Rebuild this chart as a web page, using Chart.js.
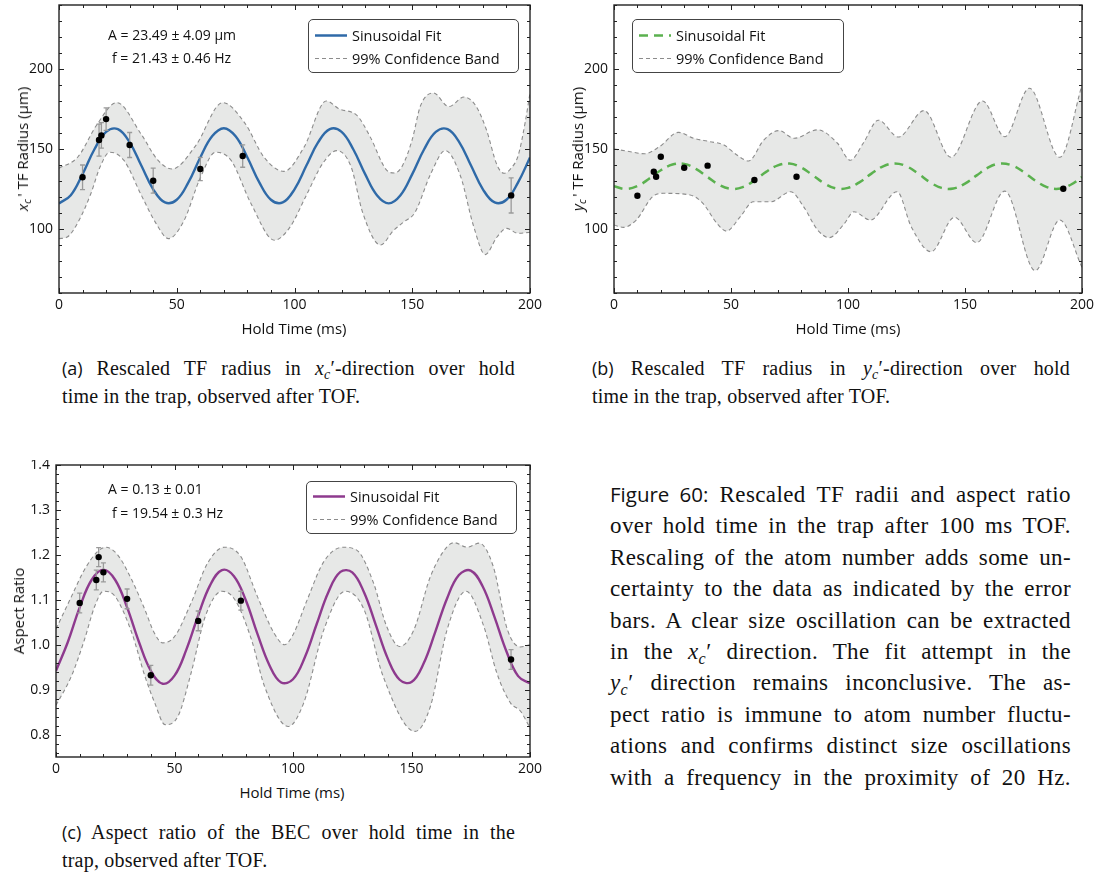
<!DOCTYPE html>
<html>
<head>
<meta charset="utf-8">
<script src="https://cdn.jsdelivr.net/npm/chart.js@4.4.1/dist/chart.umd.min.js"></script>
<style>
  body { margin: 0; width: 1105px; height: 877px; position: relative; overflow: hidden; background: #fff; color: #111; font-family: 'Open Sans', sans-serif; }
  .cv { position: absolute; }
  .ytitle { position: absolute; transform: translate(-50%, -50%) rotate(-90deg); white-space: nowrap; font-size: 15px; }
  .xtitle { position: absolute; transform: translate(-50%, -50%); white-space: nowrap; font-size: 15px; }
  .note { position: absolute; white-space: nowrap; font-size: 14px; transform: translateY(-50%); }
  .legend { position: absolute; border: 1px solid #444; border-radius: 5px; background: #fff; font-size: 14.5px; }
  .legend div { position: absolute; left: 6px; display: flex; align-items: center; white-space: nowrap; transform: translateY(-50%); }
  .legend svg { margin-right: 5px; }
  .cap, #figcap { position: absolute; font-family: 'Liberation Serif', serif; }
  .cap { font-size: 20px; letter-spacing: 0.2px; line-height: 28px; }
  #figcap { left: 610px; top: 479px; width: 461px; font-size: 23px; letter-spacing: 0.4px; line-height: 31.4px; }
  .j { display: block; text-align: justify; text-align-last: justify; white-space: nowrap; }
  .l { display: block; white-space: nowrap; }
  .sf { font-family: 'Open Sans', sans-serif; font-size: 18px; letter-spacing: 0; }
  #figcap .sf { font-size: 20.5px; }
  sub { font-size: 0.7em; vertical-align: -0.3em; line-height: 0; }
</style>
</head>
<body>

<canvas id="chartA" class="cv" style="left:0;top:0" width="545" height="320"></canvas>
<canvas id="chartB" class="cv" style="left:555px;top:0" width="545" height="320"></canvas>
<canvas id="chartC" class="cv" style="left:0;top:460px" width="545" height="320"></canvas>

<!-- panel (a) labels -->
<div class="ytitle" style="left:22px;top:149px"><i>x<sub>c</sub></i>&thinsp;' TF Radius (μm)</div>
<div class="xtitle" style="left:294px;top:328px">Hold Time (ms)</div>
<div class="note" style="left:108px;top:34px">A = 23.49 ± 4.09 μm</div>
<div class="note" style="left:112px;top:57px">f = 21.43 ± 0.46 Hz</div>
<div class="legend" style="left:308px;top:19px;width:209px;height:52px">
  <div style="top:15px"><svg width="32" height="6"><line x1="0" y1="3" x2="32" y2="3" stroke="#2f6aa8" stroke-width="2.4"/></svg>Sinusoidal Fit</div>
  <div style="top:38px"><svg width="32" height="6"><line x1="0" y1="3" x2="32" y2="3" stroke="#8c8c8c" stroke-width="1.2" stroke-dasharray="4,3"/></svg>99% Confidence Band</div>
</div>

<!-- panel (b) labels -->
<div class="ytitle" style="left:577px;top:149px"><i>y<sub>c</sub></i>&thinsp;' TF Radius (μm)</div>
<div class="xtitle" style="left:848px;top:328px">Hold Time (ms)</div>
<div class="legend" style="left:632px;top:19px;width:210px;height:52px">
  <div style="top:15px"><svg width="32" height="6"><line x1="0" y1="3" x2="32" y2="3" stroke="#5bb14f" stroke-width="2.5" stroke-dasharray="9,6"/></svg>Sinusoidal Fit</div>
  <div style="top:38px"><svg width="32" height="6"><line x1="0" y1="3" x2="32" y2="3" stroke="#8c8c8c" stroke-width="1.2" stroke-dasharray="4,3"/></svg>99% Confidence Band</div>
</div>

<!-- panel (c) labels -->
<div class="ytitle" style="left:18px;top:611px">Aspect Ratio</div>
<div class="xtitle" style="left:292px;top:792px">Hold Time (ms)</div>
<div class="note" style="left:108px;top:488px">A = 0.13 ± 0.01</div>
<div class="note" style="left:112px;top:512px">f = 19.54 ± 0.3 Hz</div>
<div class="legend" style="left:306px;top:481px;width:209px;height:51px">
  <div style="top:14px"><svg width="32" height="6"><line x1="0" y1="3" x2="32" y2="3" stroke="#8e3a8e" stroke-width="2.4"/></svg>Sinusoidal Fit</div>
  <div style="top:37px"><svg width="32" height="6"><line x1="0" y1="3" x2="32" y2="3" stroke="#8c8c8c" stroke-width="1.2" stroke-dasharray="4,3"/></svg>99% Confidence Band</div>
</div>

<!-- captions -->
<div class="cap" style="left:62px;top:354px;width:453px">
  <span class="j"><span class="sf">(a)</span> Rescaled TF radius in <i>x<sub>c</sub></i>′-direction over hold</span>
  <span class="l">time in the trap, observed after TOF.</span>
</div>
<div class="cap" style="left:592px;top:354px;width:478px">
  <span class="j"><span class="sf">(b)</span> Rescaled TF radius in <i>y<sub>c</sub></i>′-direction over hold</span>
  <span class="l">time in the trap, observed after TOF.</span>
</div>
<div class="cap" style="left:62px;top:818px;width:453px">
  <span class="j"><span class="sf">(c)</span> Aspect ratio of the BEC over hold time in the</span>
  <span class="l">trap, observed after TOF.</span>
</div>

<div id="figcap">
  <span class="j"><span class="sf">Figure 60:</span> Rescaled TF radii and aspect ratio</span>
  <span class="j">over hold time in the trap after 100 ms TOF.</span>
  <span class="j">Rescaling of the atom number adds some un-</span>
  <span class="j">certainty to the data as indicated by the error</span>
  <span class="j">bars. A clear size oscillation can be extracted</span>
  <span class="j">in the <i>x<sub>c</sub></i>′ direction. The fit attempt in the</span>
  <span class="j"><i>y<sub>c</sub></i>′ direction remains inconclusive. The as-</span>
  <span class="j">pect ratio is immune to atom number fluctu-</span>
  <span class="j">ations and confirms distinct size oscillations</span>
  <span class="j">with a frequency in the proximity of 20 Hz.</span>
</div>

<script>
// measured points (hold time in ms)
const holdTime = [10, 17, 18, 20, 30, 40, 60, 78, 192];
const radiusX = [132.3, 155.6, 158.5, 168.7, 152.5, 130.2, 137.5, 145.6, 121];
const radiusXErr = [7.7, 10, 8, 7, 7.8, 7.8, 7.3, 7, 11];
const radiusY = [120.8, 135.8, 132.7, 145.2, 138.3, 139.6, 130.6, 132.7, 125.2];
const aspect = [1.093, 1.144, 1.195, 1.161, 1.102, 0.932, 1.053, 1.098, 0.967];
const aspectErr = [0.022, 0.022, 0.021, 0.021, 0.022, 0.022, 0.022, 0.021, 0.022];

// fitted curves, read every 5 ms
const fitTime = [0, 5, 10, 15, 20, 25, 30, 35, 40, 45, 50, 55, 60, 65, 70, 75, 80, 85, 90, 95, 100,
  105, 110, 115, 120, 125, 130, 135, 140, 145, 150, 155, 160, 165, 170, 175, 180, 185, 190, 195, 200];
const fitX = [116.0, 121.1, 134.3, 149.7, 160.7, 162.4, 154.2, 139.5, 124.8, 116.6, 118.3, 129.3, 144.7, 157.9,
  163.0, 157.9, 144.7, 129.3, 118.3, 116.6, 124.8, 139.5, 154.1, 162.4, 160.7, 149.7, 134.3, 121.1, 116.0,
  121.1, 134.3, 149.7, 160.7, 162.4, 154.2, 139.5, 124.8, 116.6, 118.3, 129.3, 144.7];
const fitY = [126.8, 125.0, 126.8, 131.4, 136.7, 140.3, 140.7, 137.6, 132.5, 127.5, 125.1, 126.2, 130.3, 135.7,
  139.8, 140.9, 138.5, 133.5, 128.4, 125.3, 125.7, 129.3, 134.6, 139.2, 141.0, 139.2, 134.6, 129.3, 125.7,
  125.3, 128.4, 133.5, 138.5, 140.9, 139.8, 135.7, 130.3, 126.2, 125.1, 127.5, 132.5];
const fitAspect = [0.942, 1.006, 1.083, 1.144, 1.167, 1.144, 1.083, 1.006, 0.942, 0.913, 0.931, 0.989, 1.065,
  1.132, 1.166, 1.153, 1.100, 1.024, 0.955, 0.916, 0.923, 0.972, 1.046, 1.118, 1.162, 1.161, 1.116, 1.043,
  0.969, 0.922, 0.917, 0.957, 1.028, 1.103, 1.155, 1.165, 1.130, 1.062, 0.986, 0.930, 0.914];

// 99% confidence bands as [time, value]
const upperX = [[0,138],[8,145],[16,165],[24.5,179],[35,159],[42,143],[48,137.5],[58,152],[69.5,179],[79,166],
  [87,145],[95.5,136],[104,151],[113.5,180],[119,175],[126.5,171],[132,158],[139,137],[142.5,135],[146,140],
  [150,156],[153.5,177],[159,185],[165.5,176.5],[172,182.5],[177,177],[181.5,162],[186,140],[189,134.8],
  [192,138],[195,146],[198,167],[200,185]];
const lowerX = [[0,94],[3.5,95],[8,104],[13.5,122],[17.5,139],[21.5,148],[27.5,143],[35,121],[41,104],[46.5,94],
  [53,105],[60,132],[66.5,148],[73,143],[81.5,116],[91.5,93],[98,101],[105,121],[112,141],[118,149],[124,139],
  [129,110],[136.5,90],[142,99],[146.5,104.5],[151,110],[158,135],[164,149],[170.5,133],[176,102],[181,84],
  [186,95],[190,100.4],[195,97.3],[200,98]];
const upperY = [[0,150],[7,148.3],[13,147],[19.5,151.5],[27.5,160.4],[34,156.7],[41,154.6],[47,152.5],[52.5,146.3],
  [57.5,142.5],[64,155.6],[70.5,161.5],[77,156.7],[87,162],[95.5,153.6],[101,143],[106.5,153.6],[113,168],
  [121.5,157.5],[132.5,174],[144,144.8],[157.5,180],[167,157.7],[177.5,188],[190.5,144.8],[200,190]];
const lowerY = [[0,102.5],[4,101],[9.5,105.6],[16.5,120.2],[21,122.3],[32.5,121.3],[38,116],[44,103.5],[48,98.7],
  [54,107.7],[59.5,117],[67,117],[75.5,123.3],[81,114],[87,99.4],[92,94.6],[98.5,103.5],[102.5,110.8],
  [109.5,105.6],[121,123.3],[127,101.5],[135.5,85.8],[145.5,107.3],[155,91.5],[167,123.7],[180,74],
  [190.5,105.6],[200,76]];
const upperAspect = [[0,1.035],[6.5,1.107],[12,1.167],[17.5,1.207],[21,1.217],[26,1.2],[32,1.144],[37.5,1.078],
  [41.5,1.026],[45,1.004],[50,1.018],[57,1.093],[64,1.182],[71,1.217],[78,1.196],[85,1.107],[92,1.026],
  [96.5,1.0],[100,1.022],[106,1.1],[113,1.185],[121,1.217],[127,1.21],[134,1.137],[139.5,1.041],[145,0.996],
  [151,1.033],[158,1.152],[165,1.218],[168,1.227],[173.5,1.217],[178.5,1.226],[184.5,1.174],[190.5,1.033],
  [196,0.995],[200,1.0]];
const lowerAspect = [[0,0.865],[6.5,0.93],[12,1.011],[16.3,1.085],[20,1.119],[25,1.107],[32,1.026],[37.5,0.93],
  [41.7,0.87],[46,0.822],[51.5,0.841],[57,0.937],[63,1.063],[70,1.119],[75.5,1.1],[82.5,1.011],[88,0.907],
  [98,0.818],[104.5,0.87],[113,1.033],[122,1.119],[130,1.078],[138,0.93],[151.5,0.807],[158,0.863],
  [165,1.033],[173,1.119],[180.5,1.041],[186,0.937],[191.8,0.87],[196,0.852],[200,0.815]];

const xTicks = [0, 50, 100, 150, 200];
const radiusTicks = [100, 150, 200];
const aspectTicks = [0.8, 0.9, 1.0, 1.1, 1.2, 1.3, 1.4];

const tickFont = { family: 'Open Sans', size: 14 };

// inward ticks on all four sides + frame, like the original plot
function framePlugin(xMinor, xMajor, yMinor, yMajor) {
  return {
    id: 'frame',
    afterDraw(chart) {
      const { ctx, chartArea: a, scales: { x, y } } = chart;
      ctx.save();
      ctx.strokeStyle = '#222';
      ctx.lineWidth = 1;
      const each = (s, step, major, fn) => {
        for (let i = Math.ceil(s.min / step - 1e-9); i * step <= s.max + 1e-9; i++) {
          const v = i * step;
          const isMajor = Math.abs(v / major - Math.round(v / major)) < 1e-6;
          fn(Math.round(s.getPixelForValue(v)) + 0.5, isMajor ? 5 : 3);
        }
      };
      ctx.beginPath();
      each(x, xMinor, xMajor, (p, l) => {
        ctx.moveTo(p, a.bottom); ctx.lineTo(p, a.bottom - l);
        ctx.moveTo(p, a.top); ctx.lineTo(p, a.top + l);
      });
      each(y, yMinor, yMajor, (p, l) => {
        ctx.moveTo(a.left, p); ctx.lineTo(a.left + l, p);
        ctx.moveTo(a.right, p); ctx.lineTo(a.right - l, p);
      });
      ctx.stroke();
      ctx.lineWidth = 1.4;
      ctx.strokeRect(a.left, a.top, a.right - a.left, a.bottom - a.top);
      ctx.restore();
    }
  };
}

function errorBars(t, v, err) {
  return {
    id: 'errorBars',
    afterDatasetDraw(chart, args) {
      if (args.index !== 1 || !err) return;
      const { ctx, scales: { x, y } } = chart;
      ctx.save();
      ctx.strokeStyle = '#9a9a9a';
      ctx.lineWidth = 1.3;
      ctx.beginPath();
      t.forEach((tt, i) => {
        const px = x.getPixelForValue(tt);
        const y1 = y.getPixelForValue(v[i] - err[i]);
        const y2 = y.getPixelForValue(v[i] + err[i]);
        ctx.moveTo(px, y1); ctx.lineTo(px, y2);
        ctx.moveTo(px - 2.5, y1); ctx.lineTo(px + 2.5, y1);
        ctx.moveTo(px - 2.5, y2); ctx.lineTo(px + 2.5, y2);
      });
      ctx.stroke();
      ctx.restore();
    }
  };
}

const pairs = list => list.map(p => ({ x: p[0], y: p[1] }));
const zip = (t, v) => t.map((tt, i) => ({ x: tt, y: v[i] }));

function makeChart(id, o) {
  return new Chart(document.getElementById(id), {
    type: 'line',
    data: {
      datasets: [
        { data: zip(holdTime, o.points), showLine: false, pointRadius: 3.2, pointBackgroundColor: '#000', pointBorderWidth: 0 },
        { data: zip(fitTime, o.fit), borderColor: o.color, borderWidth: o.fitWidth, borderDash: o.dash || [], pointRadius: 0, tension: 0.4, fill: false },
        { data: pairs(o.upper), borderColor: '#8c8c8c', borderWidth: 1.1, borderDash: [4, 3], pointRadius: 0, cubicInterpolationMode: 'monotone', fill: false },
        { data: pairs(o.lower), borderColor: '#8c8c8c', borderWidth: 1.1, borderDash: [4, 3], pointRadius: 0, cubicInterpolationMode: 'monotone', fill: { target: 2 }, backgroundColor: '#e7e8e7' }
      ]
    },
    options: {
      responsive: false,
      animation: false,
      events: [],
      layout: { autoPadding: false, padding: { top: 5, right: o.padRight, left: 0, bottom: 0 } },
      plugins: { legend: { display: false }, tooltip: { enabled: false } },
      scales: {
        x: {
          type: 'linear', min: 0, max: 200,
          grid: { display: false, drawTicks: false }, border: { display: false },
          afterBuildTicks: s => { s.ticks = xTicks.map(v => ({ value: v })); },
          afterFit: s => { s.height = o.xHeight; s.paddingLeft = 0; s.paddingRight = 0; },
          ticks: { font: tickFont, color: '#111', padding: 4, maxRotation: 0, autoSkip: false }
        },
        y: {
          type: 'linear', min: o.yMin, max: o.yMax,
          grid: { display: false, drawTicks: false }, border: { display: false },
          afterBuildTicks: s => { s.ticks = o.yTicks.map(v => ({ value: v })); },
          afterFit: s => { s.width = o.yWidth; s.paddingTop = 0; s.paddingBottom = 0; },
          ticks: { font: tickFont, color: '#111', padding: 6, callback: o.fmt }
        }
      }
    },
    plugins: [framePlugin(10, 50, o.yMinor, o.yMajor), errorBars(holdTime, o.points, o.err)]
  });
}

makeChart('chartA', {
  points: radiusX, err: radiusXErr, fit: fitX, upper: upperX, lower: lowerX,
  color: '#2f6aa8', fitWidth: 2.4, yMin: 60, yMax: 240, yTicks: radiusTicks, yMinor: 10, yMajor: 50,
  yWidth: 59, xHeight: 27, padRight: 15, fmt: v => String(v)
});
makeChart('chartB', {
  points: radiusY, err: null, fit: fitY, upper: upperY, lower: lowerY,
  color: '#5bb14f', fitWidth: 2.5, dash: [9, 6], yMin: 60, yMax: 240, yTicks: radiusTicks, yMinor: 10, yMajor: 50,
  yWidth: 59, xHeight: 27, padRight: 18, fmt: v => String(v)
});
makeChart('chartC', {
  points: aspect, err: aspectErr, fit: fitAspect, upper: upperAspect, lower: lowerAspect,
  color: '#8e3a8e', fitWidth: 2.4, yMin: 0.75, yMax: 1.4, yTicks: aspectTicks, yMinor: 0.02, yMajor: 0.1,
  yWidth: 56, xHeight: 23, padRight: 15, fmt: v => v.toFixed(1)
});
</script>
</body>
</html>
